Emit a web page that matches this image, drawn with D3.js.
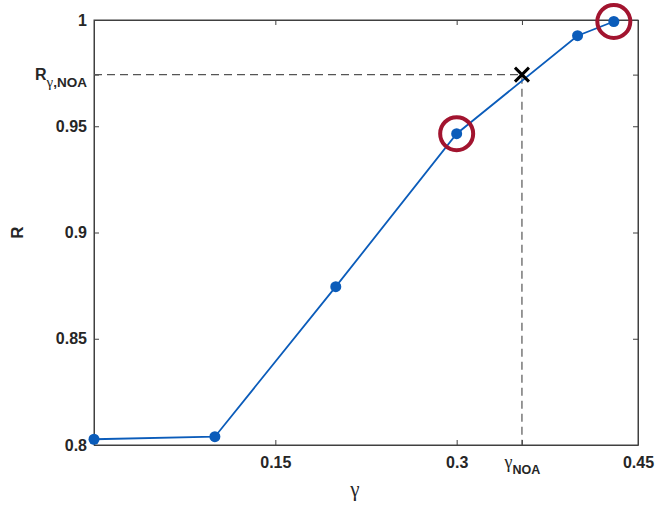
<!DOCTYPE html>
<html>
<head>
<meta charset="utf-8">
<script src="https://cdn.jsdelivr.net/npm/d3@7"></script>
<style>
  body { margin: 0; background: #fff; }
  svg { display: block; }
  .tick text { font-family: "Liberation Sans", Arial, sans-serif; font-weight: bold; font-size: 16px; fill: #262626; }
</style>
</head>
<body>
<script>
// Ratio R as a function of gamma
const gammaValues = [0, 0.1, 0.2, 0.3, 0.4, 0.43];
const rValues = [0.8027, 0.8039, 0.8745, 0.9465, 0.9926, 0.9993];
// Points singled out with a ring
const highlighted = [3, 5];
// Operating point (NOA)
const gammaNOA = 0.354;
const rNOA = 0.9743;

const xTicks = [0.15, 0.3, gammaNOA, 0.45];
const xTickLabels = ["0.15", "0.3", "NOA_GAMMA", "0.45"];
const yTicks = [0.8, 0.85, 0.9, 0.95, rNOA, 1];
const yTickLabels = ["0.8", "0.85", "0.9", "0.95", "NOA_R", "1"];

const W = 655, H = 506;
const m = { left: 94, top: 20, right: 17, bottom: 61 };
const iw = W - m.left - m.right, ih = H - m.top - m.bottom;

const svg = d3.select("body").append("svg").attr("width", W).attr("height", H);
const g = svg.append("g").attr("transform", `translate(${m.left},${m.top})`);

const x = d3.scaleLinear().domain([0, 0.45]).range([0, iw]);
const y = d3.scaleLinear().domain([0.8, 1]).range([ih, 0]);

const axisColor = "#404040";
const blue = "#0b5cba";
const red = "#a2142f";
const serif = "'Liberation Serif', 'Times New Roman', serif";

// Axes with inward ticks on all four sides
const xAxis = g.append("g").attr("transform", `translate(0,${ih})`)
  .call(d3.axisBottom(x).tickValues(xTicks).tickSizeInner(-5).tickSizeOuter(0).tickPadding(12)
    .tickFormat((d, i) => xTickLabels[i]));
const xTop = g.append("g")
  .call(d3.axisTop(x).tickValues(xTicks).tickSizeInner(-5).tickSizeOuter(0).tickFormat(""));
const yAxis = g.append("g")
  .call(d3.axisLeft(y).tickValues(yTicks).tickSizeInner(-5).tickSizeOuter(0).tickPadding(7)
    .tickFormat((d, i) => yTickLabels[i]));
const yRight = g.append("g").attr("transform", `translate(${iw},0)`)
  .call(d3.axisRight(y).tickValues(yTicks).tickSizeInner(-5).tickSizeOuter(0).tickFormat(""));

[xAxis, xTop, yAxis, yRight].forEach(a => {
  a.selectAll(".domain").attr("stroke", axisColor);
  a.selectAll(".tick line").attr("stroke", axisColor);
});

// Subscripted tick labels
xAxis.selectAll(".tick text").each(function () {
  const t = d3.select(this);
  if (t.text() === "NOA_GAMMA") {
    t.text("");
    t.append("tspan").attr("font-family", serif).attr("font-weight", "normal").attr("font-size", 18).text("γ");
    t.append("tspan").attr("font-size", 12.5).attr("dy", 6).text("NOA");
  }
});
yAxis.selectAll(".tick text").each(function () {
  const t = d3.select(this);
  if (t.text() === "NOA_R") {
    t.text("");
    t.append("tspan").text("R");
    t.append("tspan").attr("font-family", serif).attr("font-weight", "normal").attr("font-size", 15).attr("dy", 7).text("γ");
    t.append("tspan").attr("font-size", 13.5).text(",NOA");
  }
});

// Box
g.append("rect").attr("width", iw).attr("height", ih)
  .attr("fill", "none").attr("stroke", axisColor).attr("stroke-width", 1);

// Dashed guides to the operating point
g.append("path")
  .attr("d", `M${x(0)},${y(rNOA)}H${x(gammaNOA)}V${y(0.8)}`)
  .attr("fill", "none").attr("stroke", "#555").attr("stroke-width", 1.2)
  .attr("stroke-dasharray", "8,5");

// Data line and markers
const pts = gammaValues.map((v, i) => [v, rValues[i]]);
g.append("path").datum(pts)
  .attr("d", d3.line().x(d => x(d[0])).y(d => y(d[1])))
  .attr("fill", "none").attr("stroke", blue).attr("stroke-width", 1.8);
g.selectAll("circle.pt").data(pts).join("circle").attr("class", "pt")
  .attr("cx", d => x(d[0])).attr("cy", d => y(d[1])).attr("r", 5.5).attr("fill", blue);

// Rings around highlighted points
g.selectAll("circle.ring").data(highlighted.map(i => pts[i])).join("circle").attr("class", "ring")
  .attr("cx", d => x(d[0])).attr("cy", d => y(d[1])).attr("r", 16.5)
  .attr("fill", "none").attr("stroke", red).attr("stroke-width", 4);

// Cross at the operating point
const cx = x(gammaNOA), cy = y(rNOA), s = 7;
g.append("path")
  .attr("d", `M${cx - s},${cy - s}L${cx + s},${cy + s}M${cx - s},${cy + s}L${cx + s},${cy - s}`)
  .attr("stroke", "#000").attr("stroke-width", 3);

// Axis titles
svg.append("text").attr("x", 355).attr("y", 496).attr("text-anchor", "middle")
  .attr("font-family", serif).attr("font-size", 21).attr("fill", "#262626").text("γ");
svg.append("text").attr("transform", `translate(23,${m.top + ih / 2}) rotate(-90)`)
  .attr("text-anchor", "middle")
  .attr("font-family", "'Liberation Sans', Arial, sans-serif").attr("font-weight", "bold")
  .attr("font-size", 17).attr("fill", "#262626").text("R");
</script>
</body>
</html>
